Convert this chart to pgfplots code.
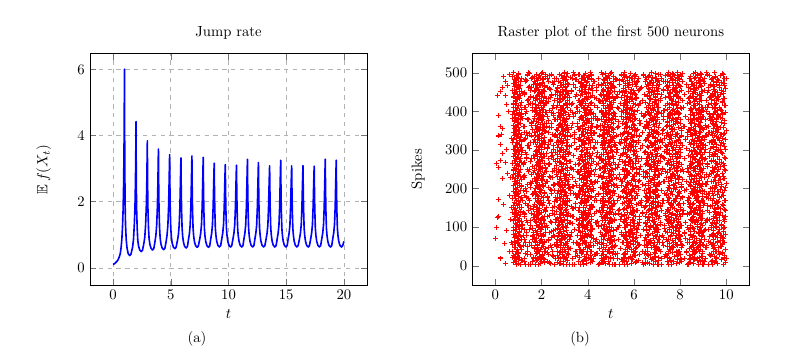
\documentclass[border=0pt]{standalone}
\usepackage{pgfplots}
\usepackage{pgfplotstable}
\usepackage{amssymb}
\pgfplotsset{compat=1.18}

\pgfplotstableread{
x y
0 0.10
0.15 0.13
0.30 0.18
0.43 0.24
0.55 0.34
0.63 0.44
0.70 0.62
0.76 0.85
0.82 1.25
0.87 1.75
0.92 2.6
0.96 4.0
0.99 6.00
1.01 3.6
1.04 2.0
1.08 1.3
1.14 0.85
1.21 0.60
1.31 0.43
1.44 0.37
1.55 0.41
1.69 0.62
1.77 0.85
1.84 1.3
1.90 1.85
1.94 2.6
1.97 3.5
1.99 4.42
2.01 2.7
2.04 1.8
2.09 1.2
2.14 0.84
2.21 0.66
2.31 0.54
2.44 0.49
2.55 0.53
2.67 0.74
2.75 0.93
2.82 1.3
2.88 1.85
2.92 2.5
2.97 3.84
2.99 2.6
3.02 1.8
3.07 1.2
3.12 0.89
3.19 0.71
3.29 0.59
3.42 0.54
3.53 0.58
3.63 0.79
3.71 0.98
3.78 1.3
3.84 1.85
3.88 2.5
3.93 3.59
3.95 2.6
3.98 1.8
4.03 1.2
4.08 0.90
4.15 0.72
4.25 0.60
4.38 0.55
4.49 0.59
4.60 0.80
4.68 1.0
4.75 1.3
4.81 1.85
4.85 2.5
4.90 3.42
4.92 2.6
4.95 1.8
5.00 1.2
5.05 0.93
5.12 0.75
5.22 0.63
5.35 0.58
5.46 0.62
5.58 0.83
5.66 1.0
5.73 1.3
5.79 1.85
5.83 2.5
5.88 3.32
5.90 2.55
5.93 1.8
5.98 1.2
6.03 0.95
6.10 0.77
6.20 0.65
6.33 0.60
6.44 0.64
6.53 0.85
6.61 1.02
6.68 1.3
6.74 1.85
6.78 2.5
6.83 3.38
6.85 2.55
6.88 1.8
6.93 1.2
6.98 0.97
7.05 0.79
7.15 0.67
7.28 0.62
7.39 0.66
7.51 0.87
7.59 1.04
7.66 1.3
7.72 1.85
7.76 2.5
7.81 3.34
7.83 2.55
7.86 1.8
7.91 1.2
7.96 0.97
8.03 0.79
8.13 0.67
8.26 0.62
8.37 0.66
8.46 0.87
8.54 1.04
8.61 1.3
8.67 1.85
8.71 2.45
8.76 3.16
8.78 2.5
8.81 1.8
8.86 1.2
8.91 0.98
8.98 0.80
9.08 0.68
9.21 0.63
9.32 0.67
9.42 0.88
9.50 1.05
9.57 1.3
9.63 1.85
9.67 2.45
9.72 3.12
9.74 2.5
9.77 1.8
9.82 1.2
9.87 0.98
9.94 0.80
10.04 0.68
10.17 0.63
10.28 0.67
10.39 0.88
10.47 1.05
10.54 1.3
10.60 1.85
10.64 2.45
10.69 3.10
10.71 2.5
10.74 1.8
10.79 1.2
10.84 0.98
10.91 0.80
11.01 0.68
11.14 0.63
11.25 0.67
11.34 0.88
11.42 1.05
11.49 1.3
11.55 1.85
11.59 2.5
11.64 3.28
11.66 2.55
11.69 1.8
11.74 1.2
11.79 0.98
11.86 0.80
11.96 0.68
12.09 0.63
12.20 0.67
12.29 0.88
12.37 1.05
12.44 1.3
12.50 1.85
12.54 2.45
12.59 3.18
12.61 2.5
12.64 1.8
12.69 1.2
12.74 0.98
12.81 0.80
12.91 0.68
13.04 0.63
13.15 0.67
13.26 0.88
13.34 1.05
13.41 1.3
13.47 1.85
13.51 2.45
13.56 3.08
13.58 2.5
13.61 1.8
13.66 1.2
13.71 0.98
13.78 0.80
13.88 0.68
14.01 0.63
14.12 0.67
14.22 0.88
14.30 1.05
14.37 1.3
14.43 1.85
14.47 2.5
14.52 3.25
14.54 2.55
14.57 1.8
14.62 1.2
14.67 0.98
14.74 0.80
14.84 0.68
14.97 0.63
15.08 0.67
15.17 0.88
15.25 1.05
15.32 1.3
15.38 1.85
15.42 2.45
15.47 3.08
15.49 2.5
15.52 1.8
15.57 1.2
15.62 0.98
15.69 0.80
15.79 0.68
15.92 0.63
16.03 0.67
16.15 0.88
16.23 1.05
16.30 1.3
16.36 1.85
16.40 2.45
16.45 3.09
16.47 2.5
16.50 1.8
16.55 1.2
16.60 0.98
16.67 0.80
16.77 0.68
16.90 0.63
17.01 0.67
17.12 0.88
17.20 1.05
17.27 1.3
17.33 1.85
17.37 2.45
17.42 3.07
17.44 2.5
17.47 1.8
17.52 1.2
17.57 0.98
17.64 0.80
17.74 0.68
17.87 0.63
17.98 0.67
18.08 0.88
18.16 1.05
18.23 1.3
18.29 1.85
18.33 2.5
18.38 3.28
18.40 2.55
18.43 1.8
18.48 1.2
18.53 0.98
18.60 0.80
18.70 0.68
18.83 0.63
18.94 0.67
19.03 0.88
19.11 1.05
19.18 1.3
19.24 1.85
19.28 2.5
19.33 3.25
19.35 2.55
19.38 1.8
19.43 1.2
19.48 0.98
19.55 0.80
19.65 0.68
19.78 0.63
19.89 0.67
20.00 0.80
}\jumprate

\pgfplotstableread{
n a b c d e f g h i j k l m o p
2 0.93 1.88 2.97 3.81 4.95 5.72 6.85 7.61 8.80 9.88 1.45 3.32 5.37 7.02 9.21
6 0.99 1.95 2.84 3.96 4.77 5.89 6.66 7.83 8.58 9.63 2.38 2.77 4.51 6.49 8.37
11 0.88 2.01 2.93 3.77 4.90 5.66 6.92 7.70 8.87 9.52 1.27 3.61 6.12 7.44 9.05
15 1.02 1.84 3.02 3.88 4.72 5.95 6.74 7.90 8.62 9.79 2.12 4.18 5.48 8.06 8.42
20 0.91 1.97 2.80 4.02 4.99 5.77 6.81 7.56 8.75 9.91 1.63 3.05 4.67 6.85 9.58
25 0.96 1.90 2.99 3.85 4.82 5.84 6.95 7.77 8.91 9.47 2.51 3.47 5.92 7.31 8.98
29 0.86 2.04 2.89 3.93 4.70 5.63 6.71 7.94 8.53 9.70 1.38 4.32 5.21 6.58 9.35
34 1.00 1.81 2.78 3.75 4.93 5.98 6.88 7.65 8.68 9.84 2.24 2.91 6.03 7.89 8.29
38 0.92 1.93 3.04 3.99 4.85 5.70 6.60 7.85 8.84 9.58 1.79 3.76 4.89 7.17 9.67
43 0.97 1.86 2.92 3.83 4.76 5.91 6.97 7.58 8.60 9.95 1.14 3.18 5.63 6.93 8.81
48 0.89 1.99 2.82 3.91 5.02 5.79 6.77 7.73 8.77 9.66 2.45 4.09 5.05 7.61 9.12
52 1.04 1.83 2.95 4.05 4.80 5.67 6.83 7.88 8.89 9.49 1.56 2.68 6.21 8.12 8.53
57 0.94 2.02 3.06 3.79 4.69 5.86 6.64 7.53 8.65 9.82 2.03 3.55 4.42 6.71 9.44
61 0.87 1.89 2.87 3.95 4.97 5.74 6.90 7.79 8.56 9.61 1.31 3.88 5.74 7.25 8.69
66 1.01 1.96 2.77 3.86 4.84 5.99 6.70 7.67 8.82 9.74 2.29 2.83 5.14 6.44 9.76
70 0.95 1.80 2.98 3.74 4.91 5.62 6.86 7.92 8.71 9.89 1.71 4.26 6.07 7.78 8.24
75 0.90 2.00 2.90 4.00 4.74 5.82 6.96 7.60 8.92 9.55 2.56 3.24 4.61 7.09 9.29
79 0.98 1.87 3.01 3.84 5.00 5.69 6.62 7.84 8.57 9.77 1.22 3.69 5.55 6.62 8.91
84 0.85 1.94 2.85 3.92 4.79 5.93 6.79 7.71 8.79 9.46 1.94 2.72 5.83 8.18 9.63
89 1.03 1.82 2.96 3.78 4.88 5.76 6.91 7.95 8.64 9.86 2.42 4.14 4.97 7.38 8.46
93 0.93 1.98 2.83 3.97 4.71 5.87 6.68 7.55 8.86 9.69 1.48 3.42 6.16 6.97 9.08
98 0.88 1.85 2.94 3.87 4.96 5.64 6.84 7.80 8.52 9.93 2.17 3.95 5.29 7.71 8.34
102 0.99 2.03 3.03 3.80 4.83 5.96 6.73 7.66 8.74 9.59 1.85 2.95 4.48 6.53 9.52
107 0.91 1.91 2.79 3.94 4.73 5.71 6.94 7.89 8.90 9.81 1.19 3.58 5.68 7.15 8.74
111 0.96 1.79 2.91 4.04 4.92 5.85 6.59 7.57 8.61 9.48 2.61 4.37 6.25 7.92 9.39
116 1.02 1.97 2.86 3.82 4.78 5.65 6.80 7.76 8.81 9.72 1.36 3.11 5.09 6.67 8.58
120 0.86 1.88 3.00 3.89 5.03 5.92 6.89 7.93 8.69 9.90 2.08 2.64 5.42 7.54 9.17
125 0.94 2.05 2.81 3.76 4.87 5.78 6.65 7.62 8.55 9.57 1.67 3.83 4.74 6.81 8.87
130 0.97 1.84 2.97 3.98 4.75 5.61 6.97 7.82 8.88 9.85 2.35 3.27 5.97 7.36 9.71
134 0.89 1.93 2.88 3.85 4.94 5.89 6.76 7.69 8.76 9.64 1.24 4.05 5.31 8.09 8.39
139 1.00 1.99 2.93 3.73 4.81 5.73 6.87 7.52 8.63 9.51 1.91 2.87 4.56 6.39 9.26
143 0.92 1.86 3.05 3.91 4.68 5.97 6.63 7.86 8.85 9.96 2.48 3.64 6.09 7.21 8.62
148 0.87 1.92 2.78 4.06 4.98 5.68 6.82 7.74 8.50 9.75 1.53 3.36 5.58 6.76 9.47
152 1.04 1.81 2.92 3.81 4.86 5.83 6.93 7.59 8.72 9.60 2.21 4.22 4.93 7.66 8.78
157 0.95 2.02 2.84 3.93 4.72 5.75 6.69 7.91 8.83 9.88 1.42 2.79 6.31 7.01 9.02
161 0.90 1.90 2.99 3.86 5.01 5.90 6.78 7.63 8.59 9.53 1.98 3.72 5.17 8.15 8.47
166 0.98 1.83 2.90 3.77 4.89 5.66 6.95 7.81 8.78 9.67 2.55 3.14 4.69 6.56 9.59
170 0.93 1.95 3.02 3.96 4.77 5.86 6.61 7.70 8.93 9.92 1.16 3.91 5.78 7.27 8.32
175 0.86 1.87 2.80 3.84 4.94 5.94 6.86 7.54 8.66 9.45 1.75 2.70 6.04 7.83 9.32
180 1.01 2.01 2.95 3.99 4.70 5.70 6.73 7.87 8.80 9.78 2.27 4.33 5.33 6.48 8.95
184 0.94 1.80 2.87 3.79 4.85 5.80 6.92 7.68 8.54 9.62 1.59 3.48 4.46 7.42 9.14
189 0.88 1.96 3.04 3.90 4.99 5.63 6.67 7.95 8.73 9.83 2.14 2.99 5.87 6.88 8.52
193 0.99 1.89 2.82 4.03 4.79 5.91 6.83 7.61 8.87 9.50 1.33 3.79 5.10 7.98 9.42
198 0.91 1.94 2.96 3.83 4.90 5.78 6.98 7.78 8.62 9.73 2.40 4.11 6.18 6.64 8.27
202 0.96 1.85 2.89 3.75 4.74 5.67 6.72 7.85 8.77 9.97 1.82 3.20 4.63 7.49 9.55
207 1.03 2.04 2.79 3.95 5.04 5.95 6.64 7.56 8.90 9.58 1.11 3.53 5.46 6.99 8.84
211 0.87 1.91 3.01 3.88 4.83 5.84 6.85 7.73 8.68 9.80 2.58 2.76 5.71 8.04 9.09
216 0.92 1.82 2.91 3.80 4.76 5.72 6.90 7.93 8.58 9.65 1.50 4.29 4.86 7.11 8.43
221 0.97 1.98 2.85 3.97 4.93 5.88 6.75 7.64 8.84 9.52 2.06 3.02 6.23 6.73 9.68
225 0.89 1.86 2.98 3.86 4.81 5.61 6.81 7.80 8.70 9.90 1.69 3.66 5.26 7.59 8.61
230 1.00 1.93 2.83 3.92 4.67 5.97 6.68 7.58 8.89 9.70 2.33 4.46 5.64 6.41 9.24
234 0.94 2.00 3.03 3.78 4.97 5.74 6.94 7.90 8.51 9.56 1.27 3.09 4.54 7.75 8.72
239 0.86 1.84 2.94 4.01 4.88 5.82 6.60 7.67 8.81 9.84 1.88 3.86 6.11 7.19 9.36
243 1.02 1.95 2.81 3.87 4.73 5.69 6.88 7.83 8.67 9.61 2.49 2.73 5.02 6.92 8.35
248 0.93 1.88 2.92 3.74 5.02 5.93 6.77 7.55 8.92 9.94 1.40 3.40 5.51 8.10 9.49
252 0.90 2.03 3.05 3.94 4.84 5.65 6.99 7.76 8.60 9.47 2.19 4.02 4.77 7.04 8.66
257 0.98 1.90 2.86 3.82 4.71 5.85 6.70 7.92 8.75 9.76 1.61 2.86 6.28 6.69 9.19
261 0.95 1.81 2.97 3.89 4.95 5.77 6.84 7.62 8.86 9.60 2.30 3.59 5.19 7.47 8.49
266 0.88 1.97 2.88 4.04 4.80 5.92 6.63 7.84 8.53 9.87 1.20 4.16 4.95 6.54 9.61
270 1.04 1.85 2.77 3.81 4.91 5.64 6.91 7.71 8.79 9.54 1.96 3.23 5.80 7.85 8.80
275 0.91 1.92 3.00 3.90 4.78 5.87 6.76 7.57 8.65 9.71 2.53 3.77 5.38 6.83 9.05
280 0.96 2.01 2.90 3.76 4.98 5.79 6.66 7.89 8.91 9.92 1.35 2.93 4.49 7.29 8.55
284 0.87 1.83 2.84 3.98 4.86 5.70 6.95 7.66 8.57 9.63 2.10 4.38 6.14 7.97 9.43
289 0.99 1.96 3.03 3.85 4.70 5.99 6.80 7.79 8.73 9.49 1.73 3.16 5.66 6.60 8.89
293 0.93 1.89 2.93 3.93 4.89 5.62 6.71 7.94 8.83 9.80 2.44 3.98 4.83 7.39 9.28
298 0.89 1.80 2.79 3.79 5.03 5.84 6.87 7.53 8.63 9.66 1.18 2.81 6.00 7.68 8.40
302 1.01 1.99 2.97 3.96 4.75 5.75 6.96 7.81 8.88 9.95 1.86 3.51 5.24 6.95 9.57
307 0.94 1.87 2.86 3.84 4.85 5.90 6.65 7.70 8.56 9.57 2.26 4.24 4.71 7.13 8.76
311 0.85 1.94 3.06 3.73 4.92 5.68 6.82 7.86 8.80 9.74 1.44 3.13 5.89 6.78 9.11
316 0.97 2.02 2.91 4.02 4.77 5.81 6.74 7.60 8.69 9.86 2.01 3.80 5.41 8.02 8.60
320 0.92 1.82 2.80 3.88 4.96 5.96 6.89 7.75 8.93 9.51 1.65 2.66 4.58 7.56 9.38
325 1.03 1.91 2.94 3.80 4.82 5.63 6.61 7.91 8.61 9.69 2.37 4.07 6.20 6.51 8.91
330 0.90 1.98 2.87 3.95 4.69 5.83 6.93 7.64 8.76 9.83 1.29 3.44 5.12 7.33 9.64
334 0.95 1.86 3.02 3.87 5.00 5.71 6.79 7.82 8.85 9.59 1.92 3.00 5.95 7.80 8.30
339 0.88 1.93 2.89 3.75 4.87 5.89 6.69 7.58 8.54 9.77 2.59 3.71 4.65 6.66 9.22
343 1.00 2.05 2.82 3.97 4.74 5.78 6.86 7.88 8.71 9.93 1.47 4.31 5.55 7.23 8.68
348 0.93 1.83 2.96 3.83 4.93 5.66 6.97 7.69 8.82 9.53 2.15 2.89 4.88 6.90 9.46
352 0.86 1.90 3.04 3.91 4.80 5.92 6.75 7.77 8.59 9.68 1.78 3.62 6.07 7.62 8.38
357 0.98 1.97 2.85 4.05 4.71 5.80 6.62 7.95 8.90 9.88 2.41 3.28 5.27 7.07 9.15
361 0.91 1.81 2.92 3.78 4.97 5.73 6.90 7.55 8.66 9.62 1.23 4.19 4.74 8.14 8.83
366 0.96 1.95 2.78 3.86 4.85 5.98 6.83 7.72 8.78 9.46 2.02 2.98 5.62 6.57 9.53
370 1.02 1.88 2.99 3.94 4.76 5.69 6.67 7.87 8.87 9.79 1.58 3.85 5.03 7.45 8.50
375 0.89 2.00 2.90 3.81 4.90 5.86 6.94 7.63 8.55 9.91 2.28 4.41 6.26 6.86 9.33
380 0.94 1.85 3.01 3.99 5.01 5.76 6.78 7.80 8.74 9.56 1.37 3.07 4.44 7.73 8.71
384 0.87 1.92 2.83 3.76 4.83 5.62 6.88 7.92 8.89 9.73 1.95 3.67 5.86 7.00 9.41
389 0.99 2.03 2.95 3.90 4.72 5.94 6.70 7.59 8.62 9.64 2.52 2.78 5.13 6.46 8.56
393 0.92 1.84 2.88 4.03 4.94 5.81 6.98 7.74 8.80 9.85 1.13 4.13 5.73 7.52 9.26
398 1.04 1.96 3.04 3.85 4.79 5.67 6.64 7.85 8.52 9.55 2.20 3.34 4.60 6.75 8.93
402 0.90 1.89 2.81 3.92 4.88 5.91 6.85 7.68 8.84 9.81 1.70 3.93 6.17 7.30 9.60
407 0.95 1.80 2.97 3.80 4.75 5.74 6.73 7.90 8.68 9.50 2.46 2.90 5.32 8.07 8.44
411 0.88 1.98 2.86 3.97 5.04 5.85 6.91 7.54 8.91 9.72 1.30 3.57 4.91 6.61 9.10
416 1.01 1.87 2.93 3.74 4.86 5.60 6.80 7.83 8.58 9.97 2.07 4.28 5.69 7.37 8.63
420 0.93 1.94 3.03 3.89 4.68 5.97 6.66 7.65 8.77 9.58 1.62 3.19 6.29 6.98 9.50
425 0.86 2.01 2.79 3.83 4.96 5.79 6.87 7.78 8.64 9.82 2.32 3.75 4.53 7.82 8.85
430 0.97 1.82 2.92 4.00 4.82 5.68 6.95 7.61 8.86 9.67 1.43 2.82 5.92 6.70 9.34
434 0.91 1.91 2.84 3.86 4.73 5.88 6.72 7.93 8.70 9.89 2.23 4.36 5.18 7.58 8.36
439 1.00 1.99 3.00 3.95 4.92 5.72 6.60 7.70 8.57 9.52 1.84 3.45 4.84 6.92 9.66
443 0.94 1.85 2.91 3.77 4.80 5.93 6.84 7.86 8.82 9.76 2.60 3.04 6.05 7.18 8.75
448 0.87 1.93 2.80 3.92 4.99 5.83 6.77 7.57 8.66 9.61 1.26 4.03 5.49 7.88 9.18
452 1.03 2.04 2.96 3.84 4.84 5.65 6.90 7.79 8.92 9.86 1.99 3.30 4.70 6.63 8.57
457 0.92 1.88 2.89 4.04 4.70 5.90 6.69 7.66 8.60 9.48 2.39 3.89 6.22 7.26 9.45
461 0.96 1.81 3.05 3.79 4.91 5.77 6.97 7.84 8.78 9.70 1.55 2.69 5.04 6.80 8.69
466 0.89 1.95 2.85 3.93 4.78 5.64 6.82 7.73 8.90 9.94 2.11 4.21 5.77 7.46 9.30
470 0.99 1.90 2.95 3.82 5.02 5.95 6.64 7.91 8.53 9.59 1.72 3.38 4.47 6.59 8.48
475 0.93 2.02 2.82 3.96 4.85 5.82 6.86 7.53 8.72 9.81 2.47 3.73 6.10 7.65 9.56
479 0.85 1.84 3.02 3.88 4.72 5.70 6.74 7.80 8.85 9.65 1.34 2.94 5.36 7.06 8.81
484 1.02 1.97 2.90 3.75 4.94 5.92 6.92 7.63 8.63 9.90 2.04 4.15 4.79 7.94 9.07
488 0.95 1.86 2.93 4.01 4.81 5.80 6.79 7.89 8.88 9.54 1.60 3.26 5.60 6.50 8.65
493 0.90 1.92 2.87 3.86 4.89 5.61 6.68 7.75 8.75 9.75 2.36 3.82 6.02 7.35 9.27
497 0.98 2.00 2.98 3.91 4.77 5.87 6.94 7.68 8.59 9.85 1.49 3.12 4.99 8.11 8.90
}\rasterA

\pgfplotstableread{
n a b c d e f g h i j k l m o p
4 1.08 1.74 3.10 3.70 5.08 5.58 7.02 7.49 8.95 9.42 1.52 3.44 5.21 7.20 8.33
8 0.79 2.12 2.70 4.12 4.66 6.05 6.57 7.98 8.45 9.95 2.33 2.69 4.58 6.38 9.48
13 1.12 1.80 3.12 3.95 4.63 5.55 7.05 7.60 8.97 9.40 1.19 3.81 6.20 7.59 8.77
18 0.82 2.10 2.75 4.15 5.10 5.90 6.50 8.01 8.60 9.99 2.07 4.26 5.57 8.17 9.09
22 1.05 1.72 3.08 3.64 4.98 5.53 7.07 7.47 8.83 9.58 1.67 2.97 4.79 6.91 8.52
27 0.78 2.05 2.67 4.10 4.60 6.02 6.65 7.90 8.42 9.93 2.49 3.56 6.08 7.39 9.31
32 1.00 1.76 3.13 3.72 5.06 5.60 6.94 7.50 8.96 9.82 1.30 4.40 5.28 6.47 8.64
36 0.76 2.14 2.71 4.17 4.64 6.07 6.49 7.95 8.52 9.44 2.19 2.84 5.99 7.97 9.53
41 1.14 1.95 2.99 3.65 4.92 5.64 7.08 7.55 8.90 9.97 1.81 3.70 4.95 7.12 8.70
46 0.84 1.70 3.15 3.98 4.70 6.09 6.58 8.04 8.48 9.50 2.28 3.13 5.73 6.88 9.16
50 1.09 2.07 2.66 4.08 5.14 5.76 6.99 7.44 8.79 9.77 1.41 4.05 5.09 7.69 8.49
55 0.75 1.83 3.05 3.62 4.59 5.98 6.53 7.83 8.99 9.39 2.58 2.71 6.26 8.07 9.38
59 1.01 2.11 2.80 4.13 4.94 5.52 7.03 7.70 8.41 9.90 1.73 3.50 4.52 6.66 8.86
64 0.81 1.75 3.11 3.84 5.05 6.06 6.68 8.02 8.62 9.61 2.14 4.33 5.86 7.47 9.22
68 1.13 2.00 2.69 3.69 4.67 5.67 7.06 7.48 8.93 9.45 1.27 2.88 5.03 7.05 8.39
73 0.83 1.71 3.02 4.16 4.97 5.95 6.48 7.92 8.53 9.84 2.44 3.84 6.11 7.28 9.60
77 1.07 2.09 2.73 3.78 5.11 5.57 6.92 7.58 8.98 9.53 1.60 3.19 4.71 8.00 8.58
82 0.78 1.78 3.14 4.03 4.62 6.00 6.62 7.99 8.46 9.98 2.10 4.12 5.44 6.57 9.41
87 1.04 2.15 2.77 3.67 4.88 5.62 7.01 7.45 8.80 9.66 1.35 2.79 5.78 7.64 8.82
91 0.80 1.73 3.07 4.11 5.13 5.88 6.56 7.80 8.92 9.43 2.53 3.62 4.85 6.99 9.05
96 1.11 1.97 2.68 3.86 4.69 6.10 6.97 7.97 8.57 9.88 1.62 4.21 6.03 7.33 8.46
100 0.77 2.06 3.09 3.63 5.01 5.59 6.71 7.52 8.87 9.56 2.25 2.92 5.35 7.85 9.35
105 1.06 1.77 2.74 4.14 4.61 5.83 7.04 8.03 8.44 9.79 1.17 3.98 4.61 6.70 8.97
109 0.86 2.13 3.13 3.75 4.95 6.04 6.51 7.64 8.94 9.41 1.99 3.33 6.14 7.50 9.57
114 1.12 1.74 2.85 4.07 5.09 5.54 6.90 7.93 8.65 9.92 2.39 4.44 5.60 6.85 8.55
118 0.79 2.08 3.01 3.66 4.65 5.97 6.60 7.47 8.49 9.60 1.50 2.75 5.15 7.73 9.13
123 1.03 1.85 2.70 3.96 4.99 5.66 7.07 7.85 8.96 9.46 2.00 3.66 4.76 7.07 8.92
128 0.82 2.11 3.12 4.17 4.73 6.08 6.63 7.51 8.58 9.96 1.78 4.01 6.24 6.50 9.43
132 1.10 1.71 2.78 3.71 5.12 5.61 6.95 7.96 8.86 9.52 2.55 3.09 5.45 7.90 8.31
137 0.75 2.01 3.10 4.04 4.64 5.85 6.54 7.56 8.43 9.74 1.21 3.88 4.98 6.93 9.27
141 1.08 1.79 2.66 3.80 4.96 6.03 7.02 7.88 8.97 9.49 2.17 4.39 6.00 7.44 8.60
146 0.84 2.14 3.06 4.12 5.07 5.56 6.66 7.46 8.68 9.91 1.64 2.83 5.38 8.03 9.51
150 1.13 1.76 2.72 3.64 4.60 5.92 6.98 8.00 8.47 9.65 2.46 3.47 4.66 6.45 8.88
155 0.78 2.04 3.14 3.93 5.03 5.70 6.50 7.62 8.90 9.40 1.37 4.17 5.81 7.16 9.17
159 1.05 1.70 2.81 4.15 4.71 6.09 6.86 7.91 8.55 9.83 2.02 3.02 5.11 7.62 8.41
164 0.81 2.10 3.04 3.68 4.91 5.60 7.05 7.48 8.82 9.58 1.87 3.74 6.27 6.82 9.62
168 1.09 1.88 2.67 4.01 5.13 5.81 6.59 7.77 8.99 9.97 2.31 4.29 4.57 7.24 8.73
173 0.76 1.73 3.11 3.73 4.63 6.06 6.92 8.02 8.42 9.45 1.45 2.95 5.66 7.81 9.24
177 1.14 2.07 2.76 4.10 4.98 5.53 6.69 7.50 8.75 9.71 2.60 3.53 5.00 6.59 8.36
182 0.83 1.81 3.08 3.87 5.08 5.90 7.08 7.87 8.64 9.89 1.25 4.09 6.16 7.42 9.44
187 1.02 2.12 2.69 3.62 4.68 5.69 6.55 7.58 8.95 9.42 2.12 3.27 4.80 7.98 8.59
191 0.79 1.75 3.00 4.16 4.93 6.01 6.81 7.99 8.51 9.64 1.69 3.91 5.52 6.72 9.06
196 1.07 1.98 2.73 3.70 5.10 5.57 7.00 7.45 8.83 9.94 2.42 2.80 5.93 7.19 8.68
200 0.85 1.72 3.15 3.99 4.62 5.96 6.62 7.73 8.60 9.47 1.32 4.23 4.68 7.53 9.33
205 1.11 2.09 2.84 4.06 4.87 5.63 6.96 8.04 8.91 9.81 1.93 3.36 6.06 6.95 8.44
209 0.77 1.80 3.03 3.65 5.14 6.07 6.52 7.53 8.46 9.55 2.51 3.80 5.24 7.77 9.58
214 1.04 2.15 2.70 3.95 4.66 5.75 7.06 7.82 8.97 9.99 1.57 2.72 4.90 6.62 8.79
219 0.82 1.74 3.13 4.14 4.97 5.52 6.64 7.49 8.69 9.43 2.26 4.35 6.19 7.34 9.20
223 1.13 2.02 2.79 3.72 5.05 6.04 6.88 7.94 8.50 9.75 1.79 3.17 5.40 8.10 8.50
228 0.76 1.78 3.09 3.88 4.60 5.65 7.03 7.60 8.93 9.51 2.40 3.93 4.62 6.89 9.49
232 1.08 2.10 2.68 4.09 4.92 5.94 6.57 7.98 8.41 9.86 1.22 3.00 6.02 7.63 8.61
237 0.80 1.84 3.05 3.66 5.12 5.59 6.94 7.70 8.78 9.63 2.09 4.10 5.13 7.10 9.13
241 1.06 2.13 2.72 3.99 4.70 6.10 6.50 7.46 8.98 9.44 1.63 3.59 5.75 6.53 8.37
246 0.78 1.71 3.12 4.15 4.94 5.71 7.08 8.01 8.59 9.95 2.57 2.85 4.93 7.88 9.40
250 1.10 1.93 2.75 3.69 5.07 5.55 6.67 7.57 8.88 9.68 1.48 4.32 6.23 7.22 8.83
255 0.84 2.06 3.14 3.92 4.64 5.99 6.91 7.90 8.45 9.41 2.16 3.24 5.30 6.78 9.55
259 1.01 1.76 2.66 4.12 5.00 5.64 7.02 7.63 8.76 9.90 1.76 3.87 4.72 7.70 8.40
264 0.75 2.11 3.07 3.63 4.76 6.05 6.60 7.47 8.95 9.57 2.35 4.47 5.97 7.01 9.19
268 1.12 1.82 2.80 4.00 5.11 5.58 6.83 7.96 8.54 9.80 1.28 2.78 5.62 7.49 8.74
273 0.81 2.03 3.10 3.77 4.66 5.87 7.07 7.51 8.85 9.46 2.04 3.63 4.59 6.58 9.37
278 1.07 1.70 2.71 4.16 4.96 6.08 6.53 7.84 8.62 9.97 1.58 4.08 6.13 7.86 8.95
282 0.79 2.14 3.03 3.67 5.13 5.68 6.97 8.03 8.44 9.62 2.45 2.89 5.07 7.15 9.28
287 1.14 1.79 2.67 3.91 4.61 5.97 6.63 7.55 8.97 9.40 1.34 3.71 5.50 6.74 8.54
291 0.83 2.08 3.15 4.08 4.88 5.54 7.04 7.79 8.70 9.85 2.22 4.19 4.88 7.56 9.52
296 1.05 1.73 2.77 3.71 5.09 6.02 6.49 7.92 8.48 9.53 1.83 3.05 6.09 7.31 8.66
300 0.78 1.99 3.08 3.97 4.67 5.72 6.89 7.45 8.92 9.74 2.52 3.50 5.27 8.02 9.11
305 1.09 2.12 2.69 4.13 4.98 5.62 7.06 7.99 8.57 9.45 1.15 4.27 4.64 6.64 8.99
309 0.85 1.77 3.11 3.64 5.04 6.07 6.58 7.61 8.81 9.93 1.90 3.21 5.84 7.41 9.46
314 1.03 2.05 2.74 3.84 4.62 5.83 6.93 7.48 8.99 9.59 2.30 3.86 5.14 6.86 8.45
318 0.76 1.72 3.06 4.11 5.14 5.57 6.70 8.01 8.42 9.78 1.51 4.43 6.18 7.68 9.34
323 1.11 2.09 2.82 3.73 4.72 6.00 7.02 7.86 8.86 9.42 2.37 2.74 4.97 7.09 8.56
327 0.80 1.84 3.14 4.03 4.99 5.66 6.54 7.54 8.52 9.96 1.71 3.68 5.59 7.94 9.07
332 1.08 2.14 2.67 3.66 5.06 5.93 6.95 7.97 8.95 9.65 2.13 4.04 4.73 6.60 8.78
337 0.82 1.75 3.02 4.17 4.65 6.09 6.61 7.59 8.66 9.48 1.40 3.26 6.01 7.39 9.39
341 1.13 2.00 2.76 3.82 4.93 5.52 7.07 7.83 8.43 9.88 2.47 3.42 5.42 7.79 8.51
346 0.77 1.70 3.13 3.98 5.12 5.76 6.66 7.44 8.90 9.60 1.26 4.14 4.84 6.97 9.25
350 1.06 2.11 2.70 4.10 4.69 6.04 6.87 8.04 8.61 9.99 2.05 2.96 6.12 7.25 8.39
355 0.84 1.81 3.07 3.69 5.02 5.61 6.51 7.66 8.98 9.44 1.86 3.79 5.06 8.06 9.59
359 1.02 2.07 2.73 4.14 4.90 5.89 7.05 7.93 8.50 9.73 2.34 4.36 5.67 6.52 8.87
364 0.78 1.74 3.12 3.77 4.63 6.01 6.64 7.52 8.84 9.50 1.55 2.73 4.55 7.46 9.08
368 1.10 2.13 2.81 3.96 5.10 5.63 6.98 7.81 8.46 9.92 2.20 3.55 6.25 7.11 8.62
373 0.81 1.78 3.04 4.07 4.74 5.94 6.56 7.47 8.79 9.58 1.66 4.02 5.34 7.83 9.44
378 1.07 2.02 2.68 3.63 4.95 5.53 7.03 8.00 8.93 9.41 2.56 3.10 4.81 6.81 8.47
382 0.76 1.71 3.09 4.16 5.08 6.06 6.72 7.68 8.56 9.84 1.18 4.25 5.95 7.55 9.29
387 1.12 2.10 2.78 3.74 4.67 5.70 6.91 7.50 8.99 9.67 2.01 3.40 5.19 7.26 8.90
391 0.83 1.86 3.15 3.94 4.91 5.98 6.48 7.95 8.44 9.43 1.80 2.87 6.04 6.69 9.62
396 1.04 2.15 2.72 4.09 5.13 5.56 7.08 7.58 8.72 9.98 2.41 4.16 4.66 7.93 8.53
400 0.79 1.73 3.00 3.65 4.61 6.03 6.60 7.89 8.87 9.52 1.33 3.57 5.47 7.04 9.14
405 1.11 2.06 2.83 4.13 4.97 5.65 6.85 7.46 8.48 9.76 2.08 3.92 5.79 7.72 8.80
409 0.80 1.79 3.14 3.86 5.05 5.92 7.01 8.02 8.96 9.40 1.61 2.81 4.94 6.55 9.50
414 1.09 2.12 2.67 4.02 4.68 5.54 6.62 7.72 8.59 9.91 2.50 4.31 6.20 7.37 8.67
418 0.77 1.72 3.06 3.70 4.99 6.08 6.99 7.55 8.83 9.55 1.44 3.30 5.02 7.84 9.23
423 1.14 1.97 2.76 4.17 5.11 5.74 6.52 7.94 8.41 9.82 2.18 3.66 5.63 6.90 8.43
428 0.85 2.08 3.11 3.78 4.64 5.60 7.07 7.62 8.94 9.47 1.74 4.46 4.78 7.61 9.57
432 1.03 1.76 2.70 3.96 4.93 6.05 6.69 8.03 8.65 9.94 2.29 2.94 6.10 7.17 8.58
437 0.78 2.14 3.03 4.11 5.06 5.86 6.94 7.49 8.47 9.61 1.53 3.96 5.23 7.91 9.32
441 1.08 1.82 2.79 3.67 4.70 5.58 6.58 7.85 8.89 9.43 2.44 4.22 4.61 6.68 8.94
446 0.81 2.05 3.15 4.05 4.96 6.02 7.04 7.60 8.53 9.86 1.24 3.14 5.85 7.52 9.41
450 1.13 1.70 2.71 3.85 5.14 5.69 6.63 7.99 8.97 9.51 2.11 3.75 5.36 7.03 8.35
455 0.76 2.10 3.09 3.64 4.66 5.96 6.90 7.45 8.67 9.79 1.72 4.38 4.98 7.75 9.21
459 1.05 1.78 2.68 4.15 4.89 5.55 7.06 7.80 8.45 9.96 2.36 2.70 6.27 6.63 8.71
464 0.84 2.11 3.05 3.73 5.07 6.09 6.54 8.01 8.92 9.46 1.47 3.85 5.10 7.43 9.47
468 1.10 1.84 2.80 4.08 4.61 5.78 6.97 7.53 8.58 9.70 2.03 4.07 5.70 7.99 8.61
473 0.79 2.03 3.13 3.68 4.98 5.62 6.68 7.88 8.85 9.90 1.82 3.13 4.70 6.73 9.04
477 1.07 1.71 2.73 3.99 5.10 6.04 7.02 7.47 8.49 9.44 2.54 4.30 6.15 7.29 8.88
482 0.82 2.09 3.08 4.16 4.68 5.52 6.56 7.97 8.98 9.63 1.29 3.49 5.25 7.66 9.35
486 1.12 1.77 2.66 3.76 4.94 5.91 6.93 7.57 8.63 9.99 2.24 3.83 4.87 6.97 8.42
491 0.75 2.15 3.10 4.04 5.12 5.67 6.61 8.04 8.43 9.54 1.68 2.99 6.07 7.57 9.53
495 1.01 1.80 2.78 3.62 4.62 6.07 7.08 7.70 8.91 9.87 2.15 4.12 5.53 7.13 8.76
500 0.80 2.06 3.01 4.10 5.03 5.59 6.74 7.48 8.68 9.50 1.42 3.37 4.60 7.89 9.13
}\rasterB

\pgfplotstableread{
n q1 q2 q3 q4 q5 q6 q7 q8 q9
3 1.31 2.55 3.22 4.47 5.15 6.41 7.08 8.36 9.02
12 1.62 2.24 3.58 4.19 5.49 6.12 7.44 8.05 9.38
19 1.25 2.61 3.33 4.58 5.27 6.50 7.19 8.44 9.11
28 1.54 2.31 3.17 4.30 5.53 6.23 7.35 8.00 9.27
36 1.40 2.47 3.49 4.14 5.10 6.37 7.50 8.28 8.97
44 1.68 2.19 3.26 4.52 5.41 6.07 7.03 8.40 9.43
53 1.22 2.39 3.62 4.25 5.20 6.46 7.27 8.12 9.15
61 1.47 2.64 3.38 4.61 5.56 6.16 7.12 8.33 9.33
69 1.59 2.28 3.19 4.39 5.31 6.54 7.40 7.98 9.06
78 1.35 2.52 3.54 4.16 5.12 6.29 7.22 8.47 9.40
86 1.65 2.35 3.29 4.55 5.45 6.09 7.47 8.19 8.99
94 1.28 2.59 3.44 4.22 5.24 6.42 7.05 8.37 9.22
103 1.51 2.21 3.64 4.46 5.37 6.19 7.31 8.08 9.36
111 1.37 2.44 3.23 4.33 5.58 6.52 7.16 8.25 9.09
119 1.70 2.62 3.51 4.17 5.14 6.26 7.42 8.43 9.29
128 1.24 2.27 3.36 4.59 5.48 6.06 7.09 8.02 9.45
136 1.56 2.49 3.18 4.28 5.22 6.39 7.36 8.30 8.96
144 1.43 2.18 3.60 4.50 5.34 6.14 7.49 8.15 9.18
153 1.63 2.57 3.31 4.20 5.09 6.48 7.14 8.42 9.31
161 1.29 2.33 3.46 4.62 5.52 6.21 7.25 7.99 9.04
169 1.49 2.63 3.21 4.36 5.28 6.33 7.45 8.35 9.39
178 1.33 2.25 3.56 4.15 5.43 6.55 7.02 8.10 9.13
186 1.66 2.42 3.40 4.48 5.17 6.11 7.33 8.46 9.25
194 1.21 2.58 3.27 4.26 5.55 6.44 7.20 8.21 8.98
203 1.53 2.30 3.63 4.57 5.30 6.18 7.48 8.06 9.42
211 1.39 2.51 3.16 4.21 5.11 6.35 7.11 8.39 9.16
219 1.61 2.20 3.48 4.44 5.46 6.08 7.29 8.27 9.34
228 1.26 2.46 3.34 4.60 5.25 6.51 7.41 7.97 9.07
236 1.57 2.65 3.20 4.31 5.39 6.24 7.06 8.44 9.28
244 1.45 2.23 3.57 4.18 5.57 6.40 7.38 8.13 9.41
253 1.69 2.54 3.30 4.53 5.19 6.13 7.23 8.32 9.01
261 1.23 2.36 3.45 4.37 5.35 6.49 7.46 8.04 9.20
269 1.52 2.60 3.24 4.24 5.50 6.20 7.13 8.45 9.37
278 1.36 2.29 3.61 4.56 5.13 6.32 7.34 8.17 9.10
286 1.64 2.48 3.37 4.13 5.42 6.05 7.21 8.38 9.44
294 1.30 2.62 3.19 4.43 5.26 6.45 7.43 8.01 9.05
303 1.48 2.26 3.53 4.29 5.54 6.27 7.07 8.29 9.32
311 1.41 2.53 3.28 4.63 5.18 6.38 7.37 8.11 8.95
319 1.67 2.19 3.43 4.35 5.36 6.10 7.24 8.41 9.26
328 1.27 2.40 3.59 4.19 5.47 6.53 7.15 8.23 9.43
336 1.58 2.57 3.25 4.51 5.23 6.22 7.50 8.07 9.12
344 1.34 2.32 3.42 4.27 5.58 6.36 7.04 8.34 9.35
353 1.62 2.64 3.18 4.54 5.10 6.15 7.30 8.46 9.02
361 1.25 2.22 3.55 4.40 5.33 6.47 7.39 8.18 9.23
369 1.55 2.45 3.32 4.16 5.51 6.28 7.10 8.03 9.40
378 1.42 2.60 3.64 4.58 5.21 6.04 7.26 8.36 9.08
386 1.70 2.27 3.22 4.32 5.44 6.43 7.47 8.24 9.30
394 1.32 2.50 3.47 4.23 5.15 6.31 7.18 7.98 9.44
403 1.60 2.34 3.27 4.61 5.56 6.17 7.32 8.43 8.99
411 1.28 2.63 3.52 4.41 5.29 6.54 7.08 8.14 9.19
419 1.50 2.21 3.35 4.14 5.40 6.25 7.44 8.31 9.36
428 1.38 2.55 3.62 4.49 5.12 6.39 7.17 8.09 9.14
436 1.65 2.37 3.20 4.28 5.48 6.12 7.35 8.42 9.27
444 1.24 2.43 3.50 4.56 5.27 6.46 7.03 8.20 9.41
453 1.53 2.66 3.29 4.20 5.53 6.21 7.28 8.05 9.06
461 1.44 2.24 3.45 4.38 5.16 6.34 7.49 8.38 9.24
469 1.63 2.52 3.17 4.60 5.38 6.06 7.12 8.26 9.33
478 1.31 2.30 3.58 4.25 5.55 6.50 7.37 8.12 9.00
486 1.56 2.58 3.33 4.45 5.20 6.19 7.21 8.45 9.39
494 1.40 2.41 3.41 4.17 5.46 6.41 7.45 8.00 9.17
}\rasterC

\begin{document}
\begin{tikzpicture}
\useasboundingbox (0,0) rectangle (541.5pt,242.2pt);
\pgfplotsset{
  every axis/.append style={
    scale only axis, width=188.5pt, height=157.6pt,
    tick style={black!55}, anchor=south west,
  },
  spk/.style={only marks, mark=+, red, mark size=1.7pt, mark options={line width=0.7pt}},
}
\begin{axis}[
  at={(61.2pt,48.3pt)},
  xmin=-2, xmax=22, ymin=-0.52, ymax=6.48,
  xtick={0,5,10,15,20}, ytick={0,2,4,6},
  grid=major, grid style={dashed, black!30},
  title={Jump rate},
  xlabel={$t$}, ylabel={$\mathbb{E}\, f(X_t)$}, ylabel shift=11pt,
]
\addplot[blue, line width=1.1pt, line join=round] table[x=x,y=y] {\jumprate};
\end{axis}

\begin{axis}[
  at={(321.3pt,48.3pt)},
  xmin=-1, xmax=11, ymin=-50, ymax=550,
  xtick={0,2,4,6,8,10}, ytick={0,100,200,300,400,500},
  title={Raster plot of the first 500 neurons},
  xlabel={$t$}, ylabel={Spikes}, ylabel shift=7pt,
]
\pgfplotsinvokeforeach{a,b,c,d,e,f,g,h,i,j,k,l,m,o,p}{
  \addplot[spk] table[x=#1,y=n] {\rasterA};
  \addplot[spk] table[x=#1,y=n] {\rasterB};
}
\pgfplotsinvokeforeach{q1,q2,q3,q4,q5,q6,q7,q8,q9}{
  \addplot[spk] table[x=#1,y=n] {\rasterC};
}
\addplot[spk] coordinates {
(0.02,70) (0.05,100) (0.08,125) (0.15,128) (0.22,20) (0.12,172) (0.14,255) (0.03,265)
(0.22,272) (0.3,225) (0.36,158) (0.3,290) (0.2,315) (0.26,340) (0.14,336) (0.2,360)
(0.32,356) (0.15,388) (0.1,442) (0.2,452) (0.3,462) (0.36,490) (0.45,478) (0.52,468)
(0.42,440) (0.47,418) (0.56,400) (0.5,300) (0.45,268) (0.52,240) (0.6,182) (0.5,90)
(0.4,58) (0.6,38) (0.45,5) (0.66,120) (0.7,330) (0.64,228) (0.72,455) (0.62,496)
(0.75,22) (0.78,82) (0.76,392) (0.8,250) (0.7,150) (0.82,300) (0.8,420) (0.68,60)
};
\end{axis}

\node at (134pt,11.6pt) {(a)};
\node at (394.6pt,11.6pt) {(b)};
\end{tikzpicture}
\end{document}
